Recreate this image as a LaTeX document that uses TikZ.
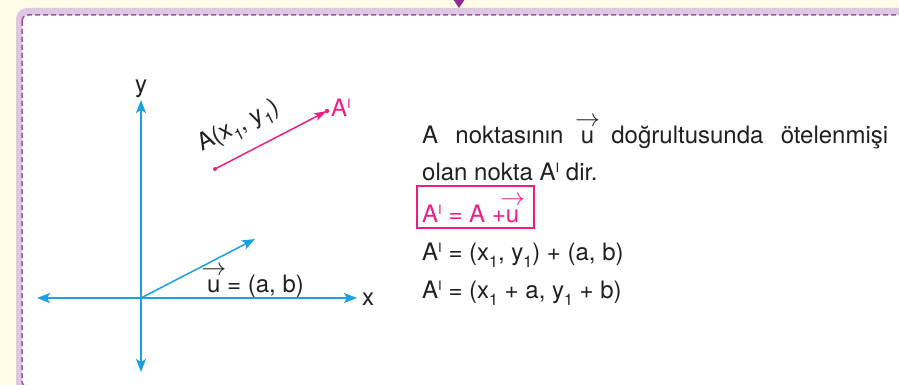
\documentclass[tikz,border=0pt]{standalone}
\usepackage{fontspec}
\setmainfont{TeX Gyre Heros}
\usetikzlibrary{arrows.meta}
\definecolor{cream}{HTML}{FFFBE7}
\definecolor{lav}{HTML}{DDC7E1}
\definecolor{dashp}{HTML}{A452A6}
\definecolor{tri}{HTML}{8E2C90}
\definecolor{axblue}{HTML}{1BA0E0}
\definecolor{pinkc}{HTML}{EC1E84}
\definecolor{ink}{HTML}{231F20}
\newcommand\prm{\raisebox{8pt}{\fontsize{13}{13}\selectfont I}}
\newcommand\sbx[1]{\raisebox{-7pt}{\fontsize{16}{16}\selectfont #1}}
\newcommand\vu{\ooalign{\hidewidth\raisebox{17pt}{$\rightarrow$}\hidewidth\cr u}}
\tikzset{
  txt/.style={inner sep=0pt, font=\fontsize{24}{28}\selectfont, text=ink},
  ptxt/.style={txt, text=pinkc},
  axis/.style={draw=axblue, line width=1.5pt, -{Stealth[length=13pt,width=10pt,inset=3pt]}},
  pvec/.style={draw=pinkc, line width=1.5pt, -{Stealth[length=13pt,width=8pt,inset=3pt]}},
  frame/.style={rounded corners=6pt},
}
\begin{document}
\begin{tikzpicture}[x=1pt,y=-1pt]
\useasboundingbox (0,0) rectangle (899,385);
\clip (0,0) rectangle (899,385);
\fill[cream] (0,0) rectangle (899,385);
\fill[lav, rounded corners=11pt] (16,8) rectangle (940,430);
\fill[white, frame] (22,15) rectangle (930,387);
\draw[dashp, line width=1.5pt, dash pattern=on 5pt off 3pt, frame] (22,15) rectangle (930,387);
\fill[tri] (453,-1) -- (465,-1) -- (459,8) -- cycle;
% axes
\coordinate (O) at (141,298);
\coordinate (yT) at (141,100);
\coordinate (yB) at (141,372);
\coordinate (xL) at (37,298);
\coordinate (xR) at (357,298);
\coordinate (uT) at (255,239);
\draw[axis] (O) -- (yT);
\draw[axis] (O) -- (yB);
\draw[axis] (O) -- (xL);
\draw[axis] (O) -- (xR);
\draw[axis] (O) -- (uT);
\node[txt, anchor=base] (ylab) at (141,93) {y};
\node[txt, anchor=base west] (xlab) at (362,305) {x};
\node[txt, anchor=base west] (ulab) at (207,292) {\vu\ = (a, b)};
% pink vector
\coordinate (A) at (215,169);
\coordinate (Ap) at (327,111);
\draw[pvec] (A) -- (Ap);
\fill[pinkc] (A) circle (2pt);
\fill[pinkc] (Ap) circle (2.2pt);
\node[ptxt, anchor=base west] (Aplab) at (331,117) {A\prm};
\node[txt, rotate=27] (Alab) at (239,127) {A(x\sbx{1}, y\sbx{1})};
% right text
\node[txt, anchor=base west] (l1) at (422,143) {\makebox[466pt][s]{A noktasının \vu\ doğrultusunda ötelenmişi}};
\node[txt, anchor=base west] (l2) at (422,180) {olan nokta A\prm\ dir.};
\node[ptxt, anchor=base west] (l3) at (422,222) {A\prm\ = A +\vu};
\draw[pinkc, line width=1.3pt] (417,186) rectangle (534,228);
\node[txt, anchor=base west] (l4) at (422,260) {A\prm\ = (x\sbx{1}, y\sbx{1}) + (a, b)};
\node[txt, anchor=base west] (l5) at (422,298) {A\prm\ = (x\sbx{1} + a, y\sbx{1} + b)};
\end{tikzpicture}
\end{document}
